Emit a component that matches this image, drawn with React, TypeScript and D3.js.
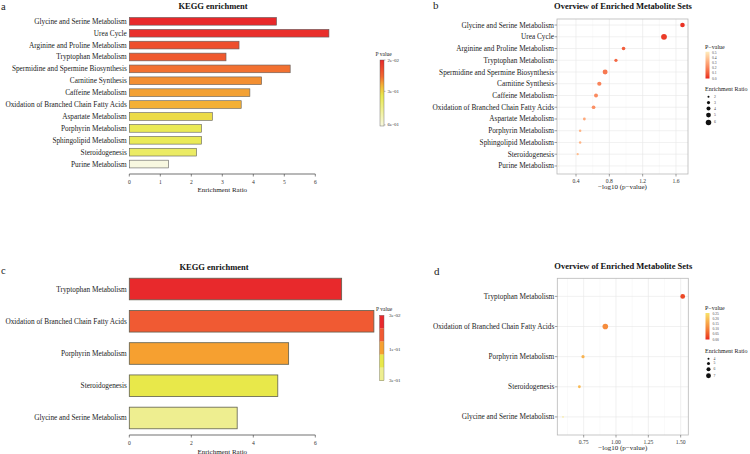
import React from "react";
import * as d3 from "d3";

const FONT = "'Liberation Serif','Times New Roman',serif";

// ---- Panels a / b: thirteen enriched pathways ----
const pathways13 = [
  "Glycine and Serine Metabolism",
  "Urea Cycle",
  "Arginine and Proline Metabolism",
  "Tryptophan Metabolism",
  "Spermidine and Spermine Biosynthesis",
  "Carnitine Synthesis",
  "Caffeine Metabolism",
  "Oxidation of Branched Chain Fatty Acids",
  "Aspartate Metabolism",
  "Porphyrin Metabolism",
  "Sphingolipid Metabolism",
  "Steroidogenesis",
  "Purine Metabolism",
];
const enrichment13 = [4.75, 6.44, 3.54, 3.12, 5.19, 4.27, 3.89, 3.61, 2.68, 2.33, 2.33, 2.17, 1.27];
const pValues13 = [0.021, 0.035, 0.107, 0.132, 0.178, 0.209, 0.229, 0.245, 0.316, 0.355, 0.355, 0.38, 0.645];

// ---- Panels c / d: five enriched pathways ----
const pathways5 = [
  "Tryptophan Metabolism",
  "Oxidation of Branched Chain Fatty Acids",
  "Porphyrin Metabolism",
  "Steroidogenesis",
  "Glycine and Serine Metabolism",
];
const enrichment5 = [6.85, 7.89, 5.14, 4.79, 3.48];
const pValues5 = [0.0305, 0.121, 0.18, 0.192, 0.257];

// ---- Tick and legend values ----
const ratioTicksA = [0, 1, 2, 3, 4, 5, 6];
const logTicksB = [0.4, 0.8, 1.2, 1.6];
const ratioTicksC = [0, 2, 4, 6];
const logTicksD = [0.75, 1.0, 1.25, 1.5];
const pLegendA = [0.02, 0.3, 0.6];
const pLegendB = [0.5, 0.4, 0.3, 0.2, 0.1, 0.0];
const sizeLegendB = [2, 3, 4, 5, 6];
const pLegendC = [0.03, 0.1, 0.3];
const pLegendD = [0.25, 0.2, 0.15, 0.1, 0.05, 0.0];
const sizeLegendD = [4, 5, 6, 7];

// palette for the five-bar panel, assigned by p-value rank
const paletteC = ["#e8292c", "#f05a33", "#f6a030", "#e8e84a", "#eeee90"];

const fmtExp = (v: number) => {
  const [m, e] = v.toExponential(0).split("e");
  const sign = e.startsWith("-") ? "-" : "+";
  const digits = e.replace(/[-+]/, "").padStart(2, "0");
  return `${m}e${sign}${digits}`;
};

const colorA = d3
  .scaleLinear<string>()
  .domain([0.02, 0.17, 0.25, 0.34, 0.61])
  .range(["#e8282a", "#f26a30", "#f4b535", "#e9e94e", "#f8f8e0"])
  .clamp(true);

const colorB = d3
  .scaleLinear<string>()
  .domain([0, 0.55])
  .range(["#e8231e", "#fdf3c4"])
  .interpolate(d3.interpolateLab)
  .clamp(true);

const colorD = d3
  .scaleLinear<string>()
  .domain([0, 0.27])
  .range(["#e8231e", "#f7ea6e"])
  .interpolate(d3.interpolateLab)
  .clamp(true);

const rankC = pValues5
  .map((p, i) => ({ p, i }))
  .sort((a, b) => a.p - b.p)
  .reduce((acc, d, r) => {
    acc[d.i] = r;
    return acc;
  }, [] as number[]);

// vertical gradient stops: value `from` at the top, `to` at the bottom
function gradientStops(scale: (v: number) => string, from: number, to: number, n = 24) {
  return d3.range(n + 1).map((k) => {
    const t = k / n;
    return <stop key={k} offset={`${t * 100}%`} stopColor={scale(from + (to - from) * t)} />;
  });
}

function legendSizeYs(values: number[], r: (v: number) => number, y0: number, minStep: number) {
  const ys: number[] = [];
  values.forEach((v, i) => {
    if (i === 0) ys.push(y0);
    else ys.push(ys[i - 1] + Math.max(r(values[i - 1]) + r(v) + 2.2, minStep));
  });
  return ys;
}

export default function App() {
  // ---------- panel a ----------
  const xA = d3.scaleLinear().domain([0, 6]).range([129.3, 315.3]);
  const yA = d3.scaleBand().domain(pathways13).range([15.35, 170]).paddingInner(0.35).paddingOuter(0.175);
  const axisYA = 174;
  const legA = d3.scaleLinear().domain([0.02, 0.61]).range([60, 126]);

  // ---------- panel b ----------
  const xB = d3.scaleLinear().domain([0.172, 1.744]).range([557, 688]);
  const yB = d3.scalePoint().domain(pathways13).range([18, 173]).padding(0.6);
  const rB = d3.scaleSqrt().domain([1.27, 6.44]).range([0.55, 2.9]);
  const legB = d3.scaleLinear().domain([0, 0.53]).range([78.5, 51.7]);
  const minorB = [0.2, 0.6, 1.0, 1.4].filter((v) => v > 0.172 && v < 1.744);
  const sizeYB = legendSizeYs(sizeLegendB, rB, 96.7, 5.9);

  // ---------- panel c ----------
  const xC = d3.scaleLinear().domain([0, 6]).range([129.3, 315.3]);
  const yC = d3.scaleBand().domain(pathways5).range([272.9, 434.1]).paddingInner(0.33).paddingOuter(0.165);
  const axisYC = 435;
  const legC = d3.scaleLog().domain([0.03, 0.3]).range([315.3, 380.7]);

  // ---------- panel d ----------
  const xD = d3.scaleLinear().domain([0.546, 1.559]).range([557.3, 688.3]);
  const yD = d3.scalePoint().domain(pathways5).range([278.3, 435]).padding(0.6);
  const rD = d3.scaleSqrt().domain([3.48, 7.89]).range([0.7, 2.8]);
  const legD = d3.scaleLinear().domain([0, 0.257]).range([339.5, 313]);
  const minorD = [0.625, 0.875, 1.125, 1.375];
  const sizeYD = legendSizeYs(sizeLegendD, rD, 358.7, 4.6);

  const labelSize = 7.3;
  const tickSize = 5.6;

  const barAxis = (x: d3.ScaleLinear<number, number>, ticks: number[], y: number, titleY: number) => (
    <g>
      <line x1={x(ticks[0])} x2={x(ticks[ticks.length - 1])} y1={y} y2={y} stroke="#333" strokeWidth={0.7} />
      {ticks.map((t) => (
        <g key={t}>
          <line x1={x(t)} x2={x(t)} y1={y} y2={y + 2.5} stroke="#333" strokeWidth={0.6} />
          <text x={x(t)} y={y + 7.5} fontSize={tickSize} textAnchor="middle" dominantBaseline="central" fill="#333">
            {d3.format("d")(t)}
          </text>
        </g>
      ))}
      <text x={(x(0) + x(6)) / 2} y={titleY} fontSize={7} textAnchor="middle" dominantBaseline="central" fill="#222">
        Enrichment Ratio
      </text>
    </g>
  );

  const dotFrame = (
    x: d3.ScaleLinear<number, number>,
    y: d3.ScalePoint<string>,
    cats: string[],
    major: number[],
    minor: number[],
    top: number,
    bottom: number,
    fmt: (v: number) => string
  ) => {
    const [l, r] = x.range();
    return (
      <g>
        {minor.map((v) => (
          <line key={"mi" + v} x1={x(v)} x2={x(v)} y1={top} y2={bottom} stroke="#f2f2f2" strokeWidth={0.4} />
        ))}
        {major.map((v) => (
          <line key={"ma" + v} x1={x(v)} x2={x(v)} y1={top} y2={bottom} stroke="#e6e6e6" strokeWidth={0.6} />
        ))}
        {cats.map((c) => (
          <line key={"h" + c} x1={l} x2={r} y1={y(c)!} y2={y(c)!} stroke="#e8e8e8" strokeWidth={0.6} />
        ))}
        <rect x={l} y={top} width={r - l} height={bottom - top} fill="none" stroke="#b8b8b8" strokeWidth={0.8} />
        {cats.map((c) => (
          <g key={"t" + c}>
            <line x1={l - 2.5} x2={l} y1={y(c)!} y2={y(c)!} stroke="#444" strokeWidth={0.5} />
            <text x={l - 3} y={y(c)!} fontSize={labelSize} textAnchor="end" dominantBaseline="central" fill="#222">
              {c}
            </text>
          </g>
        ))}
        {major.map((v) => (
          <g key={"xt" + v}>
            <line x1={x(v)} x2={x(v)} y1={bottom} y2={bottom + 2.5} stroke="#444" strokeWidth={0.5} />
            <text x={x(v)} y={bottom + 6.8} fontSize={tickSize} textAnchor="middle" dominantBaseline="central" fill="#333">
              {fmt(v)}
            </text>
          </g>
        ))}
        <text x={(l + r) / 2} y={bottom + 12.8} fontSize={7} textAnchor="middle" dominantBaseline="central" fill="#222">
          −log10 (p−value)
        </text>
      </g>
    );
  };

  return (
    <svg
      width={750}
      height={454}
      style={{ position: "absolute", left: 0, top: 0, background: "#fff" }}
      fontFamily={FONT}
    >
      <defs>
        <linearGradient id="gradA" x1="0" y1="0" x2="0" y2="1">
          {gradientStops(colorA, 0.02, 0.61)}
        </linearGradient>
        <linearGradient id="gradB" x1="0" y1="0" x2="0" y2="1">
          {gradientStops(colorB, 0.53, 0.0)}
        </linearGradient>
        <linearGradient id="gradD" x1="0" y1="0" x2="0" y2="1">
          {gradientStops(colorD, 0.257, 0.0)}
        </linearGradient>
      </defs>
      <rect width={750} height={454} fill="#fff" />

      {/* ================= panel a ================= */}
      <text x={1} y={10} fontSize={10.5} fill="#222">a</text>
      <text x={213} y={6} fontSize={8.5} fontWeight="bold" textAnchor="middle" dominantBaseline="central" fill="#111">
        KEGG enrichment
      </text>
      {pathways13.map((c, i) => (
        <g key={c}>
          <rect
            x={xA(0)}
            y={yA(c)!}
            width={xA(enrichment13[i]) - xA(0)}
            height={yA.bandwidth()}
            fill={colorA(pValues13[i])}
            stroke="#5f5f5f"
            strokeWidth={0.6}
          />
          <text x={xA(0) - 2.5} y={yA(c)! + yA.bandwidth() / 2} fontSize={labelSize} textAnchor="end" dominantBaseline="central" fill="#222">
            {c}
          </text>
        </g>
      ))}
      {barAxis(xA, ratioTicksA, axisYA, 189.5)}
      {/* colour legend a */}
      <text x={375.5} y={54} fontSize={5.5} dominantBaseline="central" fill="#222">P value</text>
      <rect x={380} y={legA(0.02)} width={4} height={legA(0.61) - legA(0.02)} fill="url(#gradA)" stroke="#555" strokeWidth={0.4} />
      {pLegendA.map((p) => (
        <g key={p}>
          <line x1={384} x2={385.5} y1={legA(p)} y2={legA(p)} stroke="#555" strokeWidth={0.4} />
          <text x={387.5} y={legA(p)} fontSize={5} dominantBaseline="central" fill="#333">{fmtExp(p)}</text>
        </g>
      ))}

      {/* ================= panel b ================= */}
      <text x={433} y={8.5} fontSize={11} fill="#222">b</text>
      <text x={623} y={6} fontSize={8.5} fontWeight="bold" textAnchor="middle" dominantBaseline="central" fill="#111">
        Overview of Enriched Metabolite Sets
      </text>
      {dotFrame(xB, yB, pathways13, logTicksB, minorB, 19, 174, d3.format(".1f"))}
      {pathways13.map((c, i) => (
        <circle key={c} cx={xB(-Math.log10(pValues13[i]))} cy={yB(c)!} r={rB(enrichment13[i])} fill={colorB(pValues13[i])} />
      ))}
      {/* legends b */}
      <text x={705} y={46.7} fontSize={6} dominantBaseline="central" fill="#222">P−value</text>
      <rect x={705.5} y={legB(0.53)} width={4} height={legB(0) - legB(0.53)} fill="url(#gradB)" />
      {pLegendB.map((p) => (
        <text key={p} x={712} y={legB(p)} fontSize={3.6} dominantBaseline="central" fill="#444">
          {d3.format(".1f")(p)}
        </text>
      ))}
      <text x={705} y={89.3} fontSize={6} dominantBaseline="central" fill="#222">Enrichment Ratio</text>
      {sizeLegendB.map((v, i) => (
        <g key={v}>
          <circle cx={708.5} cy={sizeYB[i]} r={rB(v)} fill="#111" />
          <text x={714} y={sizeYB[i]} fontSize={3.8} dominantBaseline="central" fill="#444">{v}</text>
        </g>
      ))}

      {/* ================= panel c ================= */}
      <text x={1} y={274} fontSize={10.5} fill="#222">c</text>
      <text x={214} y={266.7} fontSize={8.5} fontWeight="bold" textAnchor="middle" dominantBaseline="central" fill="#111">
        KEGG enrichment
      </text>
      {pathways5.map((c, i) => (
        <g key={c}>
          <rect
            x={xC(0)}
            y={yC(c)!}
            width={xC(enrichment5[i]) - xC(0)}
            height={yC.bandwidth()}
            fill={paletteC[rankC[i]]}
            stroke="#5f5f4f"
            strokeWidth={0.8}
          />
          <text x={xC(0) - 2.5} y={yC(c)! + yC.bandwidth() / 2} fontSize={labelSize} textAnchor="end" dominantBaseline="central" fill="#222">
            {c}
          </text>
        </g>
      ))}
      {barAxis(xC, ratioTicksC, axisYC, 451.5)}
      {/* colour legend c: one block per pathway, ordered by p */}
      <text x={376} y={309} fontSize={5.5} dominantBaseline="central" fill="#222">P value</text>
      {paletteC.map((col, k) => {
        const top = legC(0.03);
        const h = (legC(0.3) - legC(0.03)) / paletteC.length;
        return <rect key={k} x={379.5} y={top + k * h} width={4.5} height={h + 0.2} fill={col} />;
      })}
      <rect x={379.5} y={legC(0.03)} width={4.5} height={legC(0.3) - legC(0.03)} fill="none" stroke="#666" strokeWidth={0.4} />
      {pLegendC.map((p) => (
        <text key={p} x={389} y={legC(p)} fontSize={5} dominantBaseline="central" fill="#333">{fmtExp(p)}</text>
      ))}

      {/* ================= panel d ================= */}
      <text x={434} y={275} fontSize={11} fill="#222">d</text>
      <text x={623.3} y={266} fontSize={8.5} fontWeight="bold" textAnchor="middle" dominantBaseline="central" fill="#111">
        Overview of Enriched Metabolite Sets
      </text>
      {dotFrame(xD, yD, pathways5, logTicksD, minorD, 278.3, 435, d3.format(".2f"))}
      {pathways5.map((c, i) => (
        <circle key={c} cx={xD(-Math.log10(pValues5[i]))} cy={yD(c)!} r={rD(enrichment5[i])} fill={colorD(pValues5[i])} />
      ))}
      {/* legends d */}
      <text x={705} y={308.3} fontSize={6} dominantBaseline="central" fill="#222">P−value</text>
      <rect x={705.5} y={legD(0.257)} width={4} height={legD(0) - legD(0.257)} fill="url(#gradD)" />
      {pLegendD.map((p) => (
        <text key={p} x={712.5} y={legD(p)} fontSize={3.6} dominantBaseline="central" fill="#444">
          {d3.format(".2f")(p)}
        </text>
      ))}
      <text x={705} y={350.7} fontSize={6} dominantBaseline="central" fill="#222">Enrichment Ratio</text>
      {sizeLegendD.map((v, i) => (
        <g key={v}>
          <circle cx={708.5} cy={sizeYD[i]} r={rD(v)} fill="#111" />
          <text x={713.5} y={sizeYD[i]} fontSize={3.8} dominantBaseline="central" fill="#444">{v}</text>
        </g>
      ))}
    </svg>
  );
}
